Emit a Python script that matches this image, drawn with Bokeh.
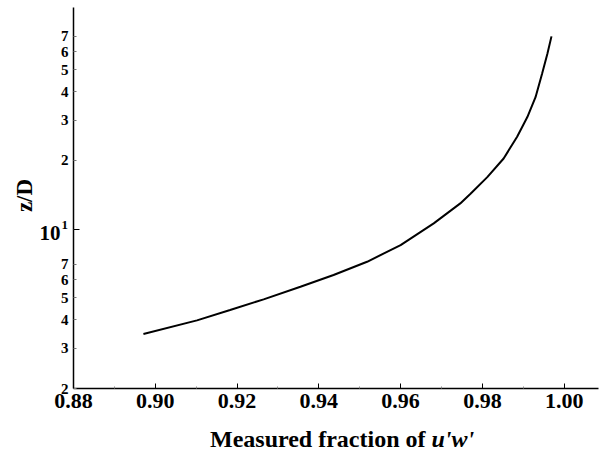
import math
from bokeh.plotting import figure
from bokeh.models import Range1d, FixedTicker, CustomJSTickFormatter, Label
from bokeh.embed import file_html
from bokeh.resources import INLINE

# ---- data ----
fraction = [0.8971, 0.9102, 0.9183, 0.9265, 0.9355, 0.9436, 0.9518,
            0.9600, 0.9681, 0.9746, 0.9771, 0.9812, 0.9852, 0.9885,
            0.9910, 0.9930, 0.9946, 0.9959, 0.9969]
z_over_d = [3.47, 3.98, 4.42, 4.92, 5.59, 6.29, 7.19,
            8.51, 10.6, 12.96, 14.3, 16.9, 20.4, 25.4,
            31.0, 37.9, 48.0, 58.7, 70.0]

x_ticks = [0.88, 0.90, 0.92, 0.94, 0.96, 0.98, 1.00]
x_minor = [0.89, 0.91, 0.93, 0.95, 0.97, 0.99]
y_ticks = [2, 3, 4, 5, 6, 7, 10, 20, 30, 40, 50, 60, 70]

# axis extents (data) and where the axes sit on the 600x453 page (pixels)
X0, X1 = 0.88, 1.0084
Y0, Y1 = 2.0, 93.7
W, H = 600, 453
FL, FR, FT, FB = 73, 598, 7, 388

FONT = "Liberation Serif"

kx = (FR - FL) / (X1 - X0)
dy = (math.log10(Y1) - math.log10(Y0)) / (FB - FT)
XS = X0 - FL / kx
XE = X1 + (W - FR) / kx
YS = 10 ** (math.log10(Y0) - (H - FB) * dy)
YE = 10 ** (math.log10(Y1) + FT * dy)


def px_to_x(px):
    return X0 + (px - FL) / kx


def py_to_y(py):
    return 10 ** (math.log10(Y0) + (FB - py) * dy)


p = figure(width=W, height=H, output_backend="svg", toolbar_location=None,
           y_axis_type="log", x_range=Range1d(XS, XE), y_range=Range1d(YS, YE),
           min_border=0)
p.outline_line_color = None
p.grid.visible = False
p.background_fill_color = "white"
p.border_fill_color = "white"

p.line(fraction, z_over_d, line_color="black", line_width=2)

# x axis
xa = p.xaxis[0]
xa.fixed_location = Y0
xa.bounds = (X0, X1)
xa.ticker = FixedTicker(ticks=x_ticks, minor_ticks=x_minor)
xa.formatter = CustomJSTickFormatter(code="return tick.toFixed(2);")
xa.axis_line_color = "black"
xa.axis_line_width = 1.5
xa.major_tick_in = 5
xa.major_tick_out = 0
xa.minor_tick_in = 2
xa.minor_tick_out = 0
xa.minor_tick_line_color = "#888888"
xa.major_label_text_font = FONT
xa.major_label_text_font_style = "bold"
xa.major_label_text_font_size = "22px"
xa.major_label_text_color = "black"
xa.major_label_standoff = 5

# y axis
ya = p.yaxis[0]
ya.fixed_location = X0
ya.bounds = (Y0, Y1)
ya.ticker = FixedTicker(ticks=y_ticks, minor_ticks=[10])
ya.formatter = CustomJSTickFormatter(
    code="if (Math.abs(tick-10) < 0.01) return ''; return tick >= 15 ? String(Math.round(tick/10)) : String(Math.round(tick));")
ya.axis_line_color = "black"
ya.axis_line_width = 1.5
ya.major_tick_in = 3
ya.major_tick_out = 0
ya.major_tick_line_color = "#777777"
ya.minor_tick_in = 6
ya.minor_tick_out = 0
ya.minor_tick_line_color = "black"
ya.major_label_text_font = FONT
ya.major_label_text_font_style = "bold"
ya.major_label_text_font_size = "15px"
ya.major_label_text_color = "black"
ya.major_label_standoff = 5

# y axis title
p.add_layout(Label(x=px_to_x(24), y=py_to_y(195), text="z/D", angle=math.pi / 2,
                   text_align="center", text_baseline="middle",
                   text_font=FONT, text_font_style="bold",
                   text_font_size="23px", text_color="black"))

# "10^1" label
p.add_layout(Label(x=X0, y=10, x_offset=-13, y_offset=-4, text="10",
                   text_align="right", text_baseline="middle",
                   text_font=FONT, text_font_style="bold",
                   text_font_size="21px", text_color="black"))
p.add_layout(Label(x=X0, y=10, x_offset=-12, y_offset=4, text="1",
                   text_align="left", text_baseline="middle",
                   text_font=FONT, text_font_style="bold",
                   text_font_size="13px", text_color="black"))

# x axis title with italic part
title_y = py_to_y(438)
p.add_layout(Label(x=px_to_x(425), y=title_y, text="Measured fraction of",
                   text_align="right", text_baseline="alphabetic",
                   text_font=FONT, text_font_style="bold",
                   text_font_size="24px", text_color="black"))
p.add_layout(Label(x=px_to_x(431), y=title_y, text="u'w'",
                   text_align="left", text_baseline="alphabetic",
                   text_font=FONT, text_font_style="bold italic",
                   text_font_size="24px", text_color="black"))

open("out.html", "w").write(file_html(p, INLINE))
